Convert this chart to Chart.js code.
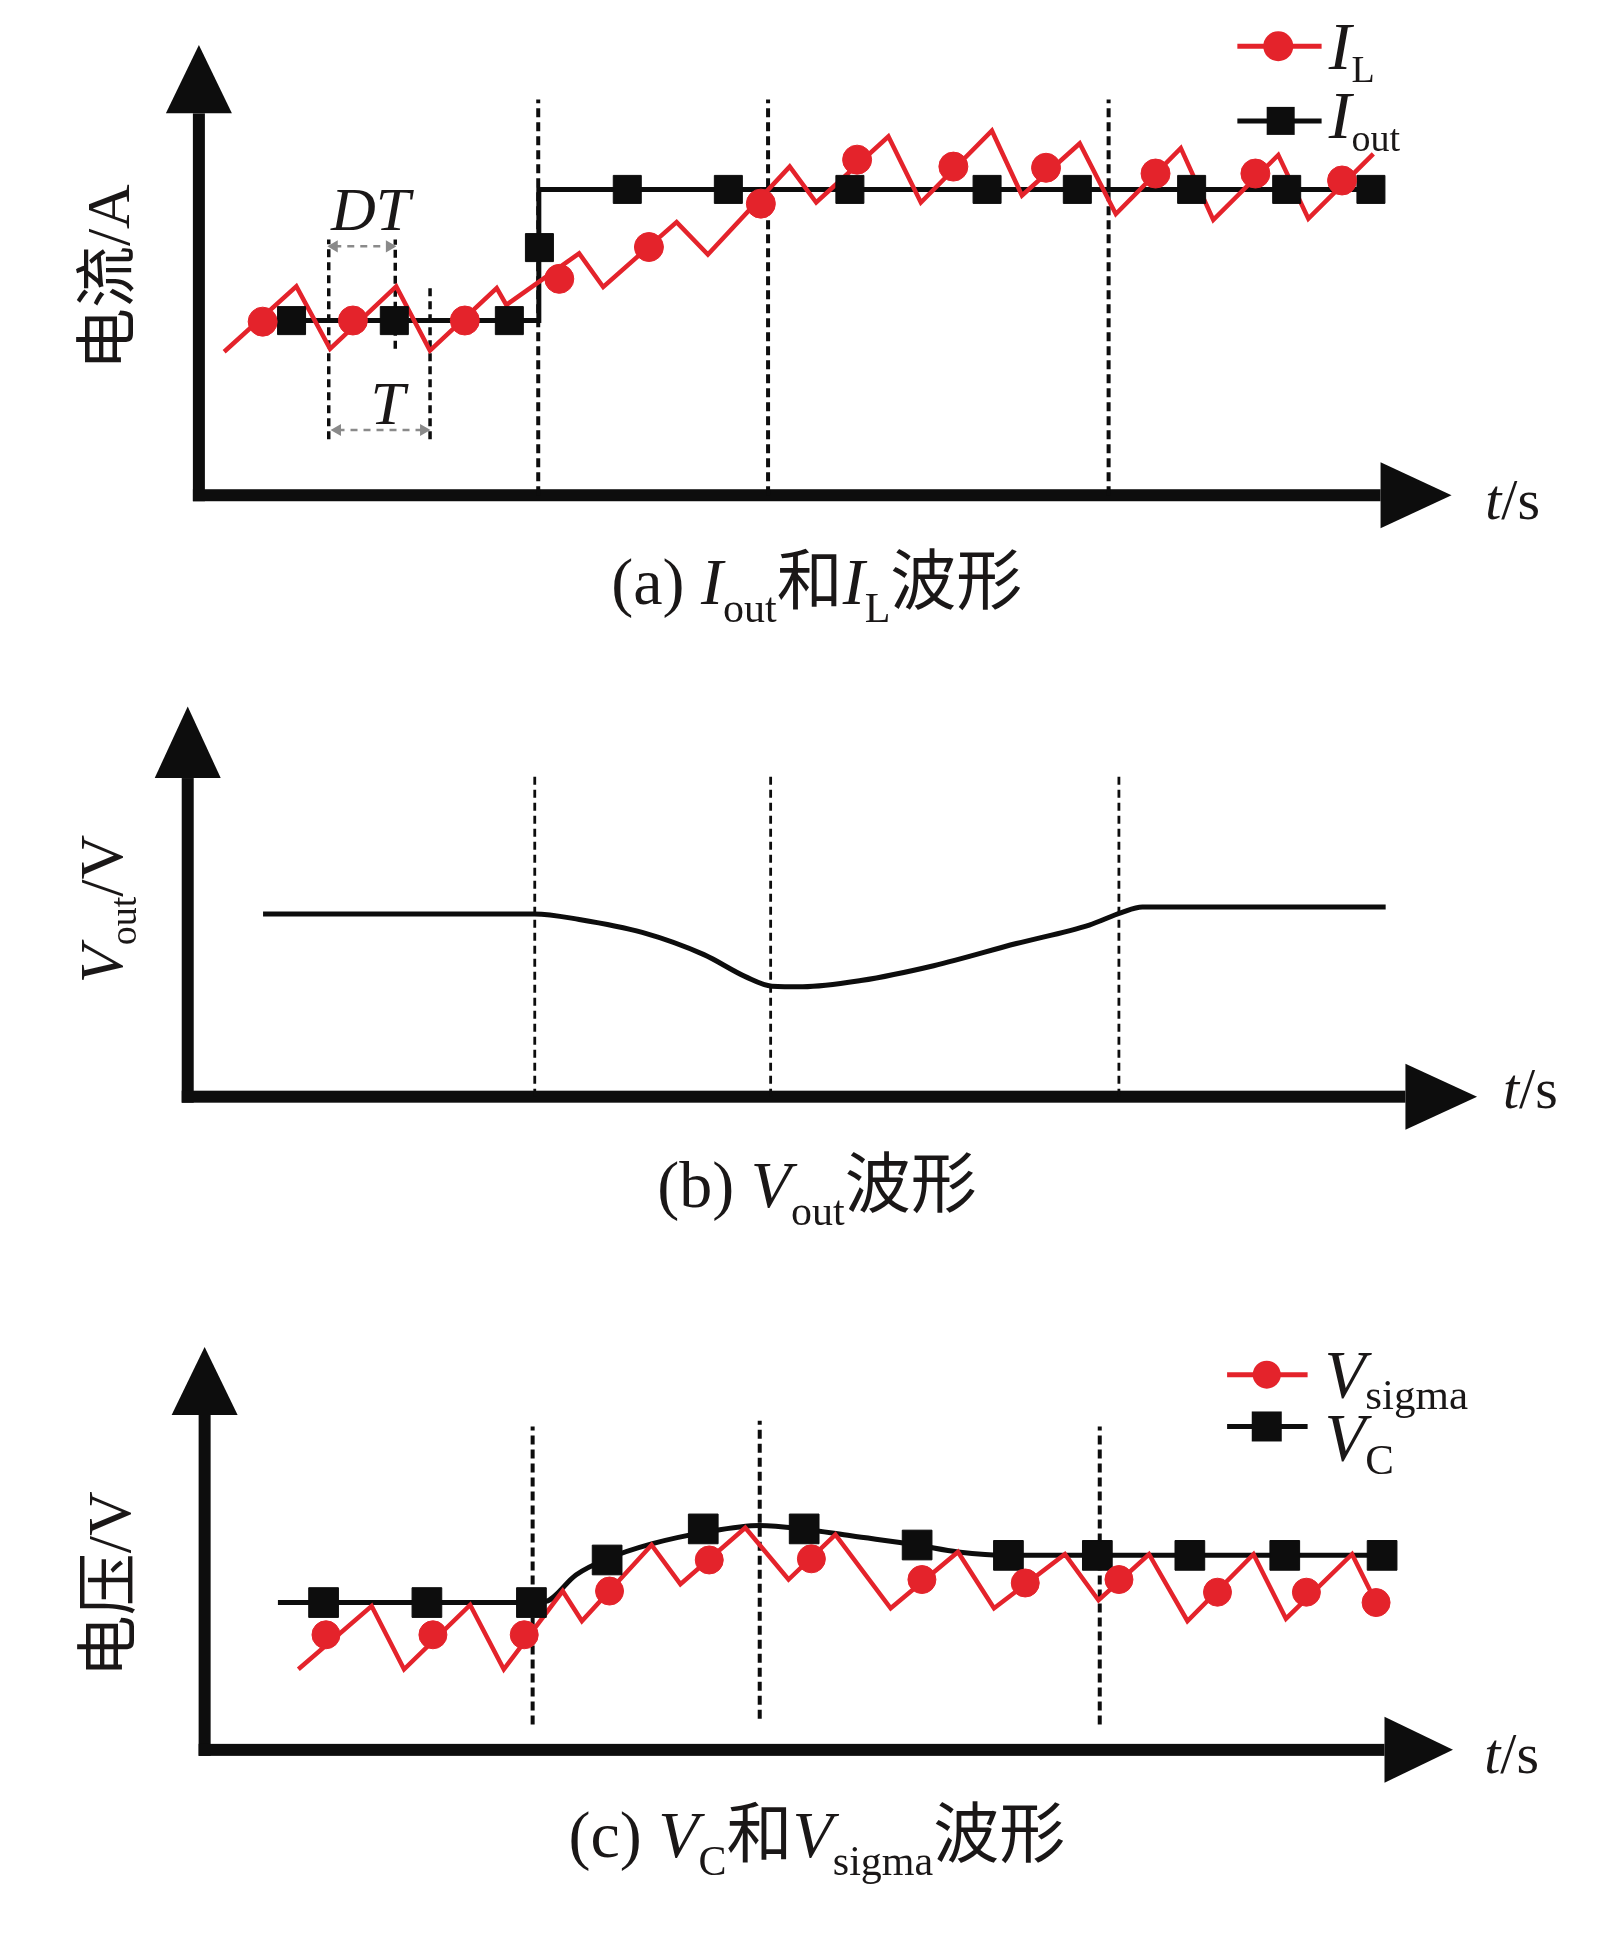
<!DOCTYPE html>
<html>
<head>
<meta charset="utf-8">
<script src="https://cdn.jsdelivr.net/npm/chart.js@4.4.1/dist/chart.umd.min.js"></script>
<style>
  html, body { margin: 0; padding: 0; background: #fff; overflow: hidden; }
  canvas { display: block; }
</style>
</head>
<body>
<canvas id="chartA" width="1622" height="660"></canvas>
<canvas id="chartB" width="1622" height="630"></canvas>
<canvas id="chartC" width="1622" height="646"></canvas>
<script>
// ---- (a) I_out and I_L ----
const switchA = [28.2, 47.3, 75.6];
const ilTime  = [2.1, 8.1, 10.9, 16.4, 19.2, 24.75, 25.55, 31.6, 33.6, 39.7, 42.3, 49.1, 51.3, 57.3, 60.0, 65.9, 68.4, 73.2, 76.2, 81.6, 84.3, 89.7, 92.2, 97.6];
const ilValue = [12.4, 18.05, 12.65, 18.05, 12.5, 17.9, 16.45, 20.9, 18.0, 23.6, 20.8, 28.4, 25.3, 31.0, 25.3, 31.5, 25.9, 30.4, 24.3, 30.0, 23.8, 29.4, 23.9, 29.5];
const ilMarkTime  = [5.3, 12.8, 22.1, 29.95, 37.4, 46.7, 54.7, 62.7, 70.4, 79.5, 87.8, 95.0];
const ilMarkValue = [15.0, 15.1, 15.1, 18.7, 21.45, 25.2, 29.0, 28.4, 28.3, 27.8, 27.8, 27.2];
const ioutTime  = [4.8, 28.25, 28.25, 97.4];
const ioutValue = [15.09, 15.09, 26.43, 26.43];
const ioutMarkTime  = [7.7, 16.24, 25.8, 28.3, 35.6, 44.0, 54.1, 65.5, 73.0, 82.5, 90.4, 97.4];
const ioutMarkValue = [15.09, 15.09, 15.09, 21.4, 26.43, 26.43, 26.43, 26.43, 26.43, 26.43, 26.43, 26.43];

// ---- (b) V_out ----
const switchB = [28.1, 47.2, 75.4];
const voutTime  = [6.1, 28.1, 31.7, 36.8, 41.8, 45.2, 47.3, 49.8, 54.5, 60.4, 67.1, 73.0, 75.6, 77.3, 97.0];
const voutValue = [14.8, 14.8, 14.35, 13.3, 11.5, 9.7, 8.95, 8.9, 9.4, 10.6, 12.4, 13.9, 14.9, 15.35, 15.35];

// ---- (c) V_C and V_sigma ----
const switchC = [27.3, 46.2, 74.5];
const switchCTop = [28.1, 28.6, 28.1];
const switchCBottom = [2.2, 2.7, 2.2];
const vsTime  = [7.8, 13.9, 16.6, 22.1, 24.9, 29.8, 31.4, 37.2, 39.6, 45.0, 48.6, 52.5, 57.1, 62.7, 65.7, 71.6, 74.4, 78.6, 81.8, 87.3, 90.0, 95.5, 97.5];
const vsValue = [7.0, 12.5, 7.0, 12.6, 7.0, 13.8, 11.2, 17.8, 14.4, 19.3, 14.8, 18.7, 12.3, 17.2, 12.3, 17.0, 13.0, 17.0, 11.2, 17.0, 11.4, 17.0, 12.8];
const vsMarkTime  = [10.1, 19.0, 26.6, 33.7, 42.0, 50.5, 59.7, 68.3, 76.1, 84.3, 91.7, 97.5];
const vsMarkValue = [10.0, 10.0, 10.0, 13.8, 16.5, 16.6, 14.8, 14.5, 14.8, 13.7, 13.7, 12.8];
const vcTime  = [6.1, 27.2, 28.4, 30.9, 33.5, 37.2, 41.6, 46.2, 49.8, 53.8, 59.3, 62.7, 66.9, 98.8];
const vcValue = [12.8, 12.8, 12.9, 15.2, 16.6, 17.9, 18.9, 19.5, 19.2, 18.6, 17.8, 17.2, 16.9, 16.9];
const vcMarkTime  = [9.9, 18.5, 27.2, 33.5, 41.5, 49.9, 59.3, 66.9, 74.3, 82.0, 89.9, 98.0];
const vcMarkValue = [12.8, 12.8, 12.8, 16.5, 19.2, 19.2, 17.8, 16.9, 16.9, 16.9, 16.9, 16.9];

const RED = '#e4232b';
const INK = '#0d0d0d';
const TEXT = '#1a1717';
const SERIF = '"Liberation Serif", "Times New Roman", serif';
const CJK = '"Noto Sans CJK SC", "Noto Sans CJK JP", sans-serif';
const K = 1.235; // page px per unit of the original drawing grid

const pts = (ts, vs) => ts.map((t, i) => ({ x: t, y: vs[i] }));
const P = (c, t, v) => [c.scales.x.getPixelForValue(t), c.scales.y.getPixelForValue(v)];

function lineSet(ts, vs, color, width, order, smooth) {
    return {
        data: pts(ts, vs), borderColor: color, borderWidth: width, pointRadius: 0,
        fill: false, order, borderJoinStyle: 'miter',
        cubicInterpolationMode: smooth ? 'monotone' : 'default',
    };
}

function markSet(ts, vs, color, style, r, order) {
    return {
        data: pts(ts, vs), showLine: false, pointStyle: style, pointRadius: r,
        pointBackgroundColor: color, pointBorderColor: color, pointBorderWidth: 1, order,
    };
}

function dashSet(t, v0, v1, width, dash, color) {
    return {
        data: [{ x: t, y: v0 }, { x: t, y: v1 }], borderColor: color || INK,
        borderWidth: width, borderDash: dash, pointRadius: 0, order: 9,
    };
}

function arrowSet(t0, t1, v) {
    return {
        data: [{ x: t0, y: v }, { x: t1, y: v }], borderColor: '#8a8a8a', borderWidth: 2.5,
        borderDash: [7, 6], order: 8, pointStyle: 'triangle', pointRadius: 4.5,
        pointRotation: [270, 90], pointBackgroundColor: '#8a8a8a', pointBorderColor: '#8a8a8a',
    };
}

function partFont(kind, o) {
    if (kind === 'c') return o.size + 'px ' + CJK;
    if (kind === 'i') return 'italic ' + o.size + 'px ' + SERIF;
    if (kind === 's') return o.sub + 'px ' + SERIF;
    return o.size + 'px ' + SERIF;
}

// text with italic letters, subscripts and CJK runs
function rich(ctx, parts, x, y, o) {
    ctx.save();
    ctx.translate(x, y);
    if (o.rot) ctx.rotate(o.rot);
    ctx.textBaseline = 'alphabetic';
    ctx.textAlign = 'left';
    ctx.fillStyle = TEXT;
    const widths = parts.map(([t, k]) => { ctx.font = partFont(k, o); return ctx.measureText(t).width; });
    const total = widths.reduce((a, b) => a + b, 0);
    let cx = o.align === 'center' ? -total / 2 : 0;
    parts.forEach(([t, k], i) => {
        ctx.font = partFont(k, o);
        ctx.fillText(t, cx, k === 's' ? o.drop : 0);
        cx += widths[i];
    });
    ctx.restore();
}

function drawAxes(c, g) {
    const ctx = c.ctx;
    const [ox, oy] = P(c, 0, 0);
    const yb = P(c, 0, g.yBase)[1], yt = P(c, 0, g.yTip)[1];
    const xb = P(c, g.xBase, 0)[0], xt = P(c, g.xTip, 0)[0];
    const hw = 6, head = 33;
    ctx.save();
    ctx.fillStyle = INK;
    ctx.fillRect(ox - hw, yb, 2 * hw, oy + hw - yb);
    ctx.fillRect(ox - hw, oy - hw, xb - ox + hw, 2 * hw);
    ctx.beginPath();
    ctx.moveTo(ox - head, yb); ctx.lineTo(ox + head, yb); ctx.lineTo(ox, yt);
    ctx.closePath(); ctx.fill();
    ctx.beginPath();
    ctx.moveTo(xb, oy - head); ctx.lineTo(xb, oy + head); ctx.lineTo(xt, oy);
    ctx.closePath(); ctx.fill();
    ctx.restore();
}

function legendItem(c, it) {
    const ctx = c.ctx;
    const [x1, y] = P(c, it.t1, it.v);
    const x2 = P(c, it.t2, it.v)[0];
    const xm = P(c, it.tm, it.v)[0];
    ctx.save();
    ctx.strokeStyle = it.color;
    ctx.lineWidth = 5;
    ctx.beginPath(); ctx.moveTo(x1, y); ctx.lineTo(x2, y); ctx.stroke();
    ctx.fillStyle = it.color;
    if (it.style === 'circle') {
        ctx.beginPath(); ctx.arc(xm, y, it.r, 0, Math.PI * 2); ctx.fill();
    } else {
        ctx.fillRect(xm - it.r, y - it.r, 2 * it.r, 2 * it.r);
    }
    ctx.restore();
    const [tx, ty] = P(c, it.tt, it.tv);
    rich(ctx, it.label, tx, ty, it.font);
}

function panel(id, g, datasets, decor) {
    const cv = document.getElementById(id);
    const top = g.canvasTop / K, bottom = (g.canvasTop + cv.height) / K;
    return new Chart(cv, {
        type: 'line',
        data: { datasets },
        options: {
            responsive: false,
            animation: false,
            devicePixelRatio: 1,
            layout: { padding: 0 },
            plugins: { legend: { display: false }, tooltip: { enabled: false } },
            scales: {
                x: { type: 'linear', display: false, min: -g.x0 / 10, max: (cv.width / K - g.x0) / 10 },
                y: { type: 'linear', display: false, min: (g.y0 - bottom) / 10, max: (g.y0 - top) / 10 },
            },
        },
        plugins: [{
            id: 'decor',
            beforeDatasetsDraw: c => drawAxes(c, g),
            afterDatasetsDraw: c => decor(c),
        }],
    });
}

const capFont = { size: 66, sub: 42, drop: 18, align: 'center' };
const labelFont = { size: 62, sub: 38, drop: 14, align: 'center', rot: -Math.PI / 2 };
const tsFont = { size: 58, align: 'left' };
const charts = [];

// ---------- panel (a) ----------
charts.push(panel('chartA', { canvasTop: 0, x0: 148, y0: 410, yTip: 38.9, yBase: 33.0, xTip: 104.1, xBase: 98.2 }, [
    markSet(ilMarkTime, ilMarkValue, RED, 'circle', 14.5, 1),
    markSet(ioutMarkTime, ioutMarkValue, INK, 'rect', 19.8, 2),
    lineSet(ilTime, ilValue, RED, 4.5, 3),
    lineSet(ioutTime, ioutValue, INK, 5, 4),
    ...switchA.map(t => dashSet(t, 0, 34.2, 4, [9, 5])),
    dashSet(10.79, 4.83, 22.11, 3.5, [8, 5]),
    dashSet(16.32, 12.66, 22.11, 3.5, [8, 5]),
    dashSet(19.21, 4.83, 18.06, 3.5, [8, 5]),
    arrowSet(11.25, 15.83, 21.51),
    arrowSet(11.52, 18.67, 5.64),
], c => {
    const ctx = c.ctx;
    let [x, y] = P(c, -5.8, 18.85);
    rich(ctx, [['电流', 'c'], ['/A', 'r']], x, y, labelFont);
    [x, y] = P(c, 106.9, -2.08);
    rich(ctx, [['t', 'i'], ['/s', 'r']], x, y, tsFont);
    [x, y] = P(c, 51.35, -9.36);
    rich(ctx, [['(a) ', 'r'], ['I', 'i'], ['out', 's'], ['和', 'c'], ['I', 'i'], ['L', 's'], ['波形', 'c']], x, y, capFont);
    [x, y] = P(c, 14.27, 22.94);
    rich(ctx, [['DT', 'i']], x, y, { size: 62, align: 'center' });
    [x, y] = P(c, 15.69, 6.18);
    rich(ctx, [['T', 'i']], x, y, { size: 62, align: 'center' });
    const lf = { size: 68, sub: 38, drop: 13, align: 'left' };
    legendItem(c, { t1: 86.3, t2: 93.3, tm: 89.7, v: 38.8, color: RED, style: 'circle', r: 15,
        tt: 93.9, tv: 36.8, label: [['I', 'i'], ['L', 's']], font: lf });
    legendItem(c, { t1: 86.3, t2: 93.3, tm: 89.9, v: 32.35, color: INK, style: 'rect', r: 14,
        tt: 93.9, tv: 30.9, label: [['I', 'i'], ['out', 's']], font: lf });
}));

// ---------- panel (b) ----------
charts.push(panel('chartB', { canvasTop: 660, x0: 152, y0: 888, yTip: 31.6, yBase: 25.8, xTip: 104.4, xBase: 98.6 }, [
    lineSet(voutTime, voutValue, INK, 5, 1, true),
    ...switchB.map(t => dashSet(t, 0, 26.2, 2.8, [8, 5])),
], c => {
    const ctx = c.ctx;
    let [x, y] = P(c, -5.3, 15.2);
    rich(ctx, [['V', 'i'], ['out', 's'], ['/V', 'r']], x, y, labelFont);
    [x, y] = P(c, 106.5, -0.9);
    rich(ctx, [['t', 'i'], ['/s', 'r']], x, y, tsFont);
    [x, y] = P(c, 50.95, -8.9);
    rich(ctx, [['(b) ', 'r'], ['V', 'i'], ['out', 's'], ['波形', 'c']], x, y, capFont);
}));

// ---------- panel (c) ----------
charts.push(panel('chartC', { canvasTop: 1290, x0: 152, y0: 1425, yTip: 35.0, yBase: 29.1, xTip: 103.9, xBase: 98.2 }, [
    markSet(vsMarkTime, vsMarkValue, RED, 'circle', 14, 1),
    markSet(vcMarkTime, vcMarkValue, INK, 'rect', 21, 2),
    lineSet(vsTime, vsValue, RED, 4.5, 3),
    lineSet(vcTime, vcValue, INK, 5, 4, true),
    ...switchC.map((t, i) => dashSet(t, switchCBottom[i], switchCTop[i], 4, [9, 5])),
], c => {
    const ctx = c.ctx;
    let [x, y] = P(c, -6.2, 14.4);
    rich(ctx, [['电压', 'c'], ['/V', 'r']], x, y, labelFont);
    [x, y] = P(c, 106.5, -2.0);
    rich(ctx, [['t', 'i'], ['/s', 'r']], x, y, tsFont);
    [x, y] = P(c, 50.95, -9.3);
    rich(ctx, [['(c) ', 'r'], ['V', 'i'], ['C', 's'], ['和', 'c'], ['V', 'i'], ['sigma', 's'], ['波形', 'c']], x, y, capFont);
    legendItem(c, { t1: 85.1, t2: 91.8, tm: 88.4, v: 32.6, color: RED, style: 'circle', r: 14,
        tt: 93.2, tv: 30.7, label: [['V', 'i'], ['sigma', 's']], font: { size: 67, sub: 43, drop: 12, align: 'left' } });
    legendItem(c, { t1: 85.1, t2: 91.8, tm: 88.4, v: 28.1, color: INK, style: 'rect', r: 15,
        tt: 93.2, tv: 25.2, label: [['V', 'i'], ['C', 's']], font: { size: 67, sub: 43, drop: 14, align: 'left' } });
}));

// redraw once the installed fonts are surely in use
if (document.fonts && document.fonts.load) {
    Promise.all([
        document.fonts.load('62px "Liberation Serif"'),
        document.fonts.load('italic 62px "Liberation Serif"'),
        document.fonts.load('62px "Noto Sans CJK SC"', '电流压和波形'),
    ]).then(() => charts.forEach(ch => ch.draw())).catch(() => {});
}
</script>
</body>
</html>
